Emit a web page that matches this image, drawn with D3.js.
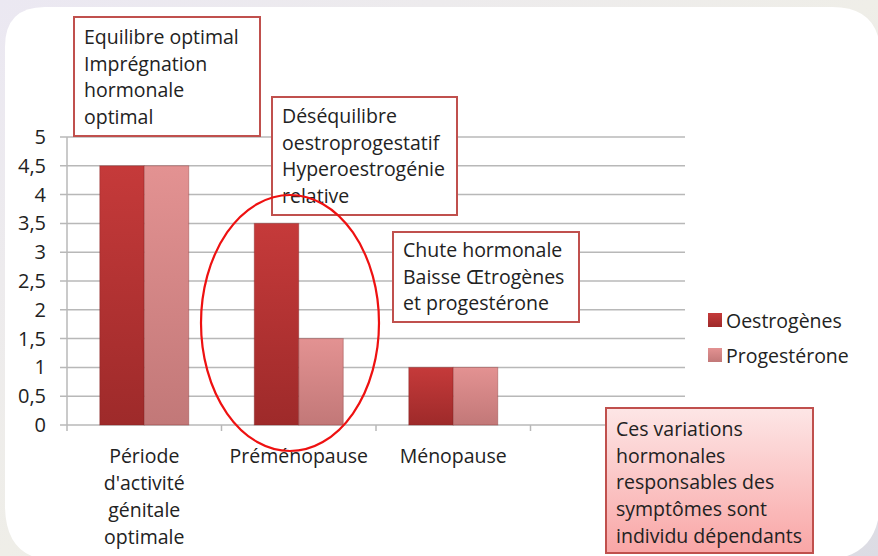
<!DOCTYPE html>
<html><head><meta charset="utf-8">
<script src="https://cdn.jsdelivr.net/npm/d3@7"></script>
<style>html,body{margin:0;padding:0;background:#fff}svg{display:block}</style>
</head><body>
<script>
const categories = [["Période","d'activité","génitale","optimale"],["Préménopause"],["Ménopause"],[""]];
const seriesNames = ["Oestrogènes","Progestérone"];
const oestrogenes = [4.5, 3.5, 1, null];
const progesterone = [4.5, 1.5, 1, null];
const yTicks = [0,0.5,1,1.5,2,2.5,3,3.5,4,4.5,5];
const annotations = [
  {lines:["Equilibre optimal","Imprégnation","hormonale","optimal"]},
  {lines:["Déséquilibre","oestroprogestatif","Hyperoestrogénie","relative"]},
  {lines:["Chute hormonale","Baisse Œtrogènes","et progestérone"]},
  {lines:["Ces variations","hormonales","responsables des","symptômes sont","individu dépendants"]}
];

const W=878,H=556;
const FONT="'Open Sans', sans-serif";
const FS=19.5;
const TXT="#222222";
const svg=d3.select("body").append("svg").attr("width",W).attr("height",H);
const defs=svg.append("defs");

const bgG=defs.append("linearGradient").attr("id","bg").attr("x1",0).attr("y1",0).attr("x2",1).attr("y2",1);
bgG.append("stop").attr("offset","0").attr("stop-color","#ebe8f2");
bgG.append("stop").attr("offset","0.5").attr("stop-color","#efeee8");
bgG.append("stop").attr("offset","1").attr("stop-color","#dcdce4");
svg.append("rect").attr("width",W).attr("height",H).attr("fill","url(#bg)");
const L=5,T=7,R=W+2,B=H+4;
svg.append("path").attr("fill","#ffffff")
  .attr("d",`M${L+40},${T} L${R-48},${T} Q${R-4},${T} ${R},${T+40} L${R},${B-60} Q${R},${B} ${R-60},${B} L${L+50},${B} Q${L},${B} ${L},${B-55} L${L},${T+40} Q${L},${T} ${L+40},${T} Z`);

const x=d3.scaleBand().domain(d3.range(categories.length)).range([67,685]).paddingInner(0).paddingOuter(0);
const y=d3.scaleLinear().domain([0,5]).range([425,137]);
const barW=44.5;
const xs=d3.scaleBand().domain(seriesNames).range([0,barW*2]);

const g=svg.append("g");
g.selectAll("line.grid").data(yTicks).join("line")
  .attr("x1",60).attr("x2",685).attr("y1",d=>y(d)).attr("y2",d=>y(d))
  .attr("stroke","#b8b8b8").attr("stroke-width",1.5);
g.append("line").attr("x1",67).attr("x2",67).attr("y1",y(5)).attr("y2",y(0)).attr("stroke","#b8b8b8").attr("stroke-width",1.5);
g.selectAll("line.xt").data(d3.range(categories.length+1)).join("line")
  .attr("x1",d=>67+d*x.bandwidth()).attr("x2",d=>67+d*x.bandwidth())
  .attr("y1",y(0)).attr("y2",y(0)+6).attr("stroke","#b8b8b8").attr("stroke-width",1.5);

g.selectAll("text.yl").data(yTicks).join("text")
  .attr("x",46).attr("y",d=>y(d)+7).attr("text-anchor","end")
  .attr("font-family",FONT).attr("font-size",20).attr("fill",TXT)
  .text(d=>String(d).replace(".",","));

function grad(id,c1,c2){
  const lg=defs.append("linearGradient").attr("id",id).attr("x1",0).attr("y1",0).attr("x2",0).attr("y2",1);
  lg.append("stop").attr("offset","0").attr("stop-color",c1);
  lg.append("stop").attr("offset","1").attr("stop-color",c2);
}
grad("gO","#c53a3a","#9e2a2a");
grad("gP","#e39292","#c27878");
grad("gBox","#fde6e6","#f9a6a6");
const fills={"Oestrogènes":"url(#gO)","Progestérone":"url(#gP)"};
const values={"Oestrogènes":oestrogenes,"Progestérone":progesterone};

seriesNames.forEach(s=>{
  const data=values[s].map((v,i)=>({i,v})).filter(d=>d.v!=null);
  svg.append("g").selectAll("rect").data(data).join("rect")
    .attr("x",d=>x(d.i)+x.bandwidth()/2-barW+xs(s))
    .attr("y",d=>y(d.v)).attr("width",xs.bandwidth()).attr("height",d=>y(0)-y(d.v))
    .attr("fill",fills[s]).attr("stroke","#7a2020").attr("stroke-opacity",0.35).attr("stroke-width",1);
});

categories.forEach((lines,i)=>{
  const t=svg.append("text").attr("font-family",FONT).attr("font-size",FS).attr("fill",TXT).attr("text-anchor","middle");
  lines.forEach((ln,k)=>t.append("tspan").attr("x",x(i)+x.bandwidth()/2).attr("y",463+k*27).text(ln));
});

const leg=svg.append("g");
seriesNames.forEach((s,k)=>{
  leg.append("rect").attr("x",708).attr("y",313+k*35).attr("width",14).attr("height",14).attr("fill",fills[s]);
  leg.append("text").attr("x",726).attr("y",328+k*35).attr("font-family",FONT).attr("font-size",FS).attr("fill",TXT).text(s);
});

const boxPos=[
  {x:74,y:17,w:186,h:119,tx:84,ty:44,fill:"#ffffff"},
  {x:272,y:97,w:185,h:118,tx:282,ty:123,fill:"#ffffff"},
  {x:393,y:232,w:186,h:90,tx:403,ty:257,fill:"#ffffff"},
  {x:606,y:408,w:207,h:145,tx:616,ty:436,fill:"url(#gBox)"}
];
annotations.forEach((a,i)=>{
  const p=boxPos[i];
  svg.append("rect").attr("x",p.x).attr("y",p.y).attr("width",p.w).attr("height",p.h)
    .attr("fill",p.fill).attr("stroke","#c0504d").attr("stroke-width",2);
  const t=svg.append("text").attr("font-family",FONT).attr("font-size",FS).attr("fill",TXT);
  a.lines.forEach((ln,k)=>t.append("tspan").attr("x",p.tx).attr("y",p.ty+k*26.7).text(ln));
});

svg.append("ellipse").attr("cx",290).attr("cy",323).attr("rx",89).attr("ry",128)
  .attr("fill","none").attr("stroke","#ee1111").attr("stroke-width",2.2);
</script>
</body></html>
